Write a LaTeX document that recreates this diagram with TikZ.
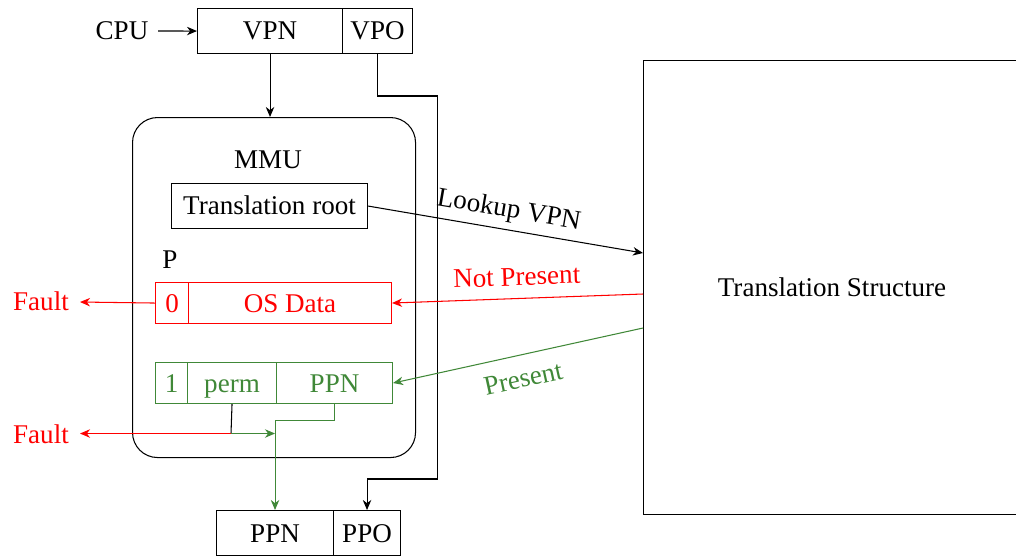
\documentclass[tikz,border=0pt]{standalone}
\usepackage{fontspec}
\setmainfont{Liberation Serif}
\usetikzlibrary{arrows.meta}
\definecolor{pgreen}{RGB}{64,136,56}
\definecolor{pred}{RGB}{255,0,0}
\newcommand\pu{0.02cm}
\begin{document}
\begin{tikzpicture}[x=0.02cm,y=-0.02cm,
  font=\fontsize{15.4}{18}\selectfont,
  line width=0.6pt,
  >={Stealth[length=5.7pt,width=4.8pt,inset=1.8pt]},
  box/.style={draw, inner sep=0pt, anchor=north west, minimum height=45*\pu, text height=10.2pt, text depth=0pt},
  cell/.style={draw, inner sep=0pt, anchor=north west, minimum height=41*\pu, text height=10.2pt, text depth=0pt},
  lbl/.style={inner sep=0pt}]
\useasboundingbox (0,0) rectangle (1016,556);
\clip (0,0) rectangle (1016,556);
% top boxes
\node[lbl] (cpu) at (122,31) {CPU};
\node[box, minimum width=145*\pu] (vpn) at (197,8) {VPN};
\node[box, minimum width=70*\pu] (vpo) at (342,8) {VPO};
% MMU
\node[draw, rounded corners=25*\pu, anchor=north west, minimum width=283*\pu, minimum height=340*\pu, inner sep=0pt] (mmu) at (132,117) {};
\node[lbl] (mmulbl) at (268,160) {MMU};
\node[box, minimum width=196*\pu] (troot) at (171,183) {Translation root};
\node[lbl] (p) at (170,260) {P};
% red row
\node[cell, pred, minimum width=33*\pu] (zero) at (155,282) {0};
\node[cell, pred, minimum width=203*\pu] (osdata) at (188,282) {OS Data};
% green row
\node[cell, pgreen, minimum width=32*\pu] (one) at (155,362) {1};
\node[cell, pgreen, minimum width=89*\pu] (perm) at (187,362) {perm};
\node[cell, pgreen, minimum width=116*\pu] (ppna) at (276,362) {PPN};
% faults
\node[lbl, pred] (fault1) at (41,301) {Fault};
\node[lbl, pred] (fault2) at (41,434) {Fault};
% bottom boxes
\node[box, minimum width=117*\pu] (ppnb) at (216,510) {PPN};
\node[box, minimum width=67*\pu] (ppo) at (333,510) {PPO};
% translation structure
\node[draw, anchor=north west, minimum width=378*\pu, minimum height=454*\pu, inner sep=0pt] (ts) at (643,60) {};
\node[lbl] (tslbl) at (832,287) {Translation Structure};
% coordinates
\coordinate (c1) at (437.5,96);
\coordinate (c2) at (437.5,479);
\coordinate (j) at (231,433.5);
\coordinate (f1) at (80,302);
\coordinate (f2) at (80,433.5);
\coordinate (tsa) at (643,253);
\coordinate (tsb) at (643,294);
\coordinate (tsc) at (643,328);
\coordinate (cpuout) at (158,31);
% connectors
\draw[->] (cpuout) -- (vpn.west);
\draw[->] (vpn.south) -- (vpn.south |- mmu.north);
\draw[->] (vpo.south) |- (c1) -- (c2) -| (ppo.north);
\draw[->] (troot.east) -- (tsa) node[midway, above=3.5pt, sloped, inner sep=0pt] {Lookup VPN};
\draw[->, pred] (tsb) -- (osdata.east) node[midway, above=7pt, sloped, inner sep=0pt] {Not Present};
\draw[->, pgreen] (tsc) -- (ppna.east) node[midway, below=8pt, sloped, inner sep=0pt] {Present};
\draw[->, pred] (zero.west) -- (f1);
\draw (perm.south) -- (j);
\draw[->, pred] (j) -- (f2);
\draw[->, pgreen] (j) -- (ppnb.north |- j);
\draw[->, pgreen] (ppna.south) -- ++(0,16) -| (ppnb.north);
\end{tikzpicture}
\end{document}
